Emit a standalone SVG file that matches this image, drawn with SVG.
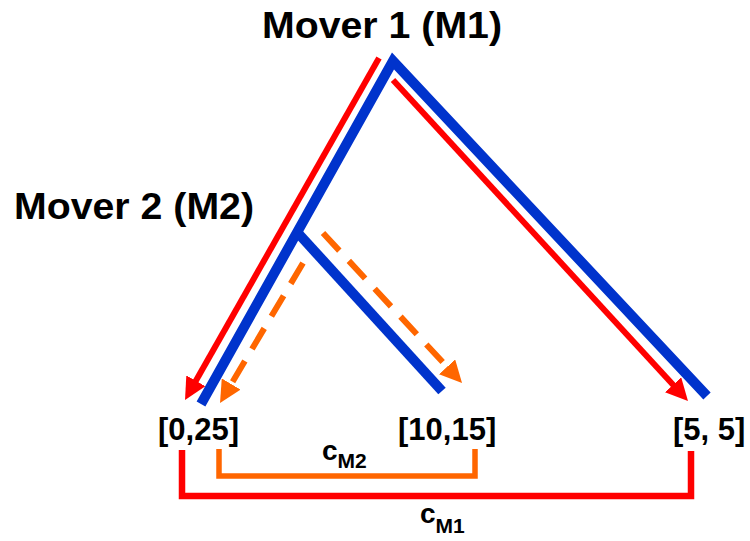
<svg xmlns="http://www.w3.org/2000/svg" width="750" height="541" viewBox="0 0 750 541">
<style>
.lbl{font-family:"Liberation Sans",Arial,sans-serif;font-weight:bold;fill:#000}
.blue{fill:none;stroke:#0033cc;stroke-width:10;stroke-linejoin:miter}
.red{fill:none;stroke:#ff0000;stroke-width:6}
.org{fill:none;stroke:#ff6600;stroke-width:6;stroke-dasharray:24 14}
.bk-red{fill:none;stroke:#ff0000;stroke-width:6.5}
.bk-org{fill:none;stroke:#ff6600;stroke-width:5.5}
</style>
<defs>
<marker id="ah-red" viewBox="0 0 22 22" refX="4" refY="11" markerWidth="22" markerHeight="22" markerUnits="userSpaceOnUse" orient="auto"><path d="M0,0 L22,11 L0,22 z" fill="#ff0000"/></marker>
<marker id="ah-org" viewBox="0 0 22 22" refX="4" refY="11" markerWidth="22" markerHeight="22" markerUnits="userSpaceOnUse" orient="auto"><path d="M0,0 L22,11 L0,22 z" fill="#ff6600"/></marker>
</defs>
<g id="connectors">
<path class="blue" d="M201,404 L393,61 L707,396"/>
<path class="blue" d="M297,232 L442,391"/>
<path class="red" d="M379,58 L193.9,384.3" marker-end="url(#ah-red)"/>
<path class="red" d="M393,80 L675.8,387.7" marker-end="url(#ah-red)"/>
<path class="org" d="M303,263 L229.2,387.5" marker-end="url(#ah-org)"/>
<path class="org" d="M323,233 L449.8,369.8" marker-end="url(#ah-org)"/>
<path class="bk-org" d="M219,449 V476 H475 V449"/>
<path class="bk-red" d="M182,450 V496 H691 V451"/>
</g>
<g id="m1"><text class="lbl" x="262" y="38" font-size="36" textLength="240" lengthAdjust="spacingAndGlyphs">Mover 1 (M1)</text></g>
<g id="m2"><text class="lbl" x="14" y="219" font-size="36" textLength="240" lengthAdjust="spacingAndGlyphs">Mover 2 (M2)</text></g>
<g id="leaf1"><text class="lbl" x="158" y="440" font-size="31">[0,25]</text></g>
<g id="leaf2"><text class="lbl" x="398" y="440" font-size="31">[10,15]</text></g>
<g id="leaf3"><text class="lbl" x="673" y="440" font-size="31">[5, 5]</text></g>
<g id="cm2"><text class="lbl" x="322" y="460" font-size="28">c<tspan font-size="21" dy="8">M2</tspan></text></g>
<g id="cm1"><text class="lbl" x="420" y="523" font-size="28">c<tspan font-size="21" dy="10">M1</tspan></text></g>
</svg>
